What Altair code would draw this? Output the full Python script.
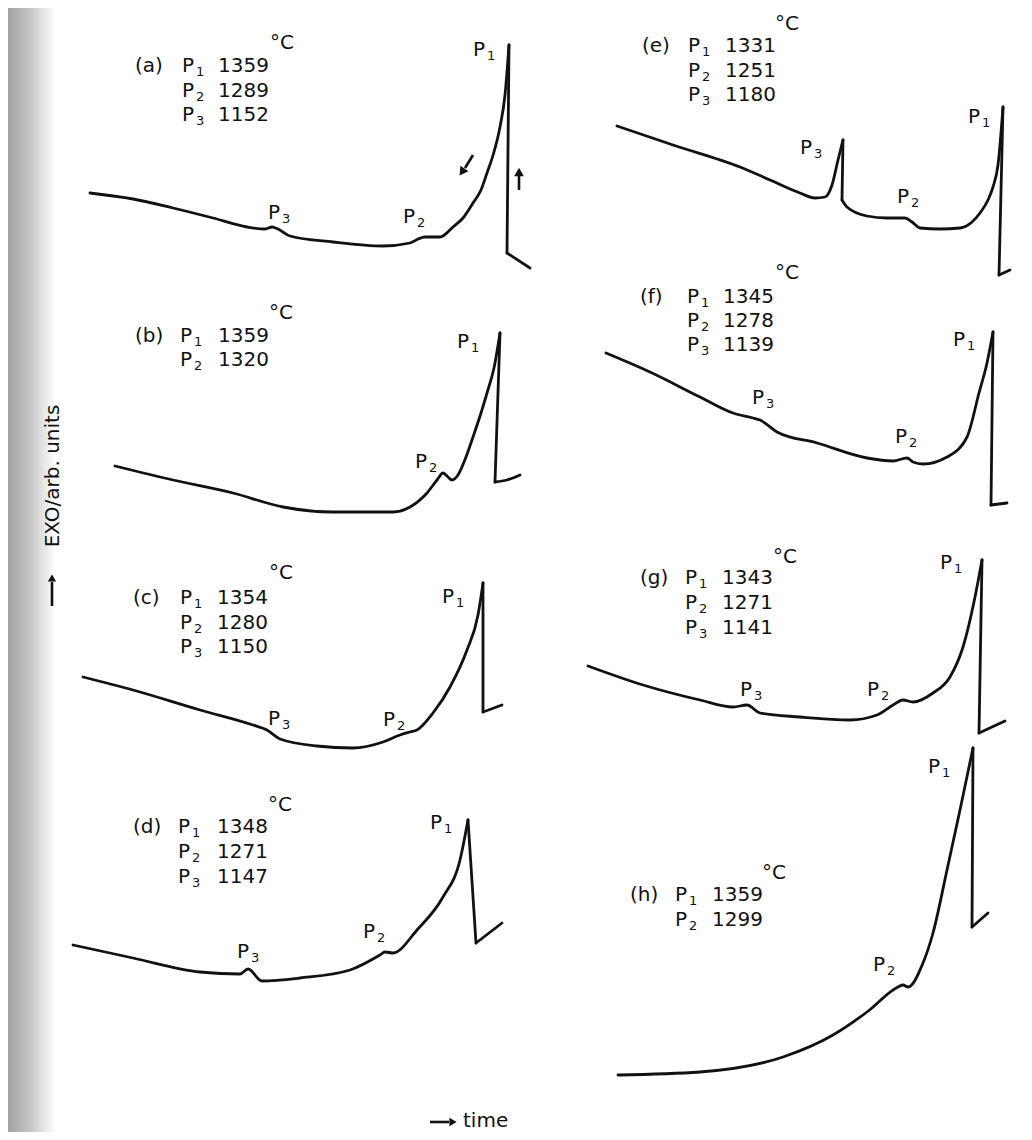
import altair as alt
import pandas as pd

# ---------------- data (time, EXO signal; arb. units) -------------
A_TIME = [90,133,173,213,247,265,272,278,290,333,383,410,418,425,440,453,463,473,481,487,494,500,505,509,507,530]
A_EXO  = [193,199,208,218,227,229,227,229,236,242,246,243,239,237,237,227,218,203,190,173,152,127,95,45,253,268]
B_TIME = [115,173,233,283,333,393,410,427,437,443,448,452,458,466,473,481,487,494,500,495,507,520]
B_EXO  = [466,480,493,507,512,512,507,493,480,473,477,480,475,457,437,413,393,368,333,482,480,475]
C_TIME = [83,133,200,253,267,280,317,353,383,400,410,417,433,450,467,478,483,483,502]
C_EXO  = [677,690,710,725,730,739,746,748,742,735,732,730,713,687,650,615,583,712,705]
D_TIME = [73,133,200,240,248,262,300,350,380,385,393,417,443,460,468,476,502]
D_EXO  = [945,958,972,974,969,981,978,970,955,952,953,930,897,860,820,943,923]
E_TIME = [617,673,740,770,800,815,825,832,838,843,842,847,867,887,905,912,920,940,960,972,980,988,993,998,1003,999,1010]
E_EXO  = [126,145,167,180,193,198,197,185,160,140,200,207,216,218,218,222,228,229,228,222,213,200,187,165,107,275,270]
F_TIME = [606,650,700,733,753,760,777,817,867,893,907,913,923,947,967,979,987,993,991,1007]
F_EXO  = [353,372,397,413,418,420,432,443,458,461,458,462,464,457,437,393,363,332,505,503]
G_TIME = [588,643,700,733,747,760,800,850,877,893,903,913,933,950,963,975,982,979,1005]
G_EXO  = [666,685,700,707,705,713,717,720,715,705,700,702,693,677,647,597,560,733,721]
H_TIME = [618,700,783,833,867,898,903,908,923,933,947,960,973,972,988]
H_EXO  = [1075,1072,1057,1035,1012,987,985,987,963,933,870,810,748,927,913]

# peak temperatures (°C) per curve
PEAKS = {
    "a": [1359, 1289, 1152],
    "b": [1359, 1320],
    "c": [1354, 1280, 1150],
    "d": [1348, 1271, 1147],
    "e": [1331, 1251, 1180],
    "f": [1345, 1278, 1139],
    "g": [1343, 1271, 1141],
    "h": [1359, 1299],
}

CURVES = {
    "a": (A_TIME, A_EXO), "b": (B_TIME, B_EXO), "c": (C_TIME, C_EXO), "d": (D_TIME, D_EXO),
    "e": (E_TIME, E_EXO), "f": (F_TIME, F_EXO), "g": (G_TIME, G_EXO), "h": (H_TIME, H_EXO),
}
# indices of sharp vertices (spike tops and bottoms of the quench drops)
CORNERS = {
    "a": [23, 24], "b": [18, 19], "c": [16, 17], "d": [14, 15],
    "e": [9, 10, 24, 25], "f": [17, 18], "g": [16, 17], "h": [12, 13],
}

# ---------------- layout of the annotation blocks ----------------
# letter_x, P_x, value_x, first_row, row_step, degC_x, degC_y
HEADER_POS = {
    "a": (135, 182, 218, 66, 24.5, 270, 43),
    "b": (135, 180, 218, 336, 24, 269, 313),
    "c": (133, 180, 217, 598, 24.5, 269, 573),
    "d": (133, 178, 217, 827, 25, 268, 805),
    "e": (642, 688, 725, 46, 24.5, 775, 24),
    "f": (640, 687, 723, 297, 24, 775, 273),
    "g": (640, 685, 722, 578, 25, 773, 557),
    "h": (630, 675, 712, 895, 25, 762, 873),
}
# peak label (index, x, y) near the curves
PEAK_LABEL_POS = {
    "a": [(3, 268, 213), (2, 403, 217), (1, 473, 50)],
    "b": [(2, 415, 462), (1, 457, 342)],
    "c": [(3, 268, 719), (2, 383, 720), (1, 442, 597)],
    "d": [(3, 237, 952), (2, 363, 932), (1, 430, 823)],
    "e": [(3, 800, 148), (2, 897, 197), (1, 968, 117)],
    "f": [(3, 752, 398), (2, 895, 437), (1, 953, 340)],
    "g": [(3, 740, 690), (2, 867, 690), (1, 940, 563)],
    "h": [(2, 873, 965), (1, 928, 767)],
}

FONT = "DejaVu Sans"
INK = "#111111"
BIG = 20
SUB = 13

# ---------------- build tables ----------------
rows = []
for p, (ts, ys) in CURVES.items():
    cuts = [0] + CORNERS[p] + [len(ts) - 1]
    for s in range(len(cuts) - 1):
        for i in range(cuts[s], cuts[s + 1] + 1):
            rows.append({"seg": f"{p}{s}", "order": i, "time": ts[i], "exo": ys[i]})
lines_df = pd.DataFrame(rows)

txt = []
def add_p(label_idx, x, y):
    txt.append({"x": x, "y": y, "text": "P", "size": BIG})
    txt.append({"x": x + 14, "y": y + 6, "text": str(label_idx), "size": SUB})

for p, temps in PEAKS.items():
    lx, px, vx, r0, step, cx, cy = HEADER_POS[p]
    txt.append({"x": lx, "y": r0, "text": f"({p})", "size": BIG})
    for i, temp in enumerate(temps):
        ry = r0 + i * step
        add_p(i + 1, px, ry)
        txt.append({"x": vx, "y": ry, "text": str(temp), "size": BIG})
    txt.append({"x": cx, "y": cy, "text": "°C", "size": BIG})
    for idx, x, y in PEAK_LABEL_POS[p]:
        add_p(idx, x, y)
txt.append({"x": 463, "y": 1121, "text": "time", "size": BIG})
text_df = pd.DataFrame(txt)

arrows_df = pd.DataFrame([
    {"x": 52, "y": 606, "x2": 52, "y2": 582},     # y-axis arrow
    {"x": 430, "y": 1122, "x2": 449, "y2": 1122}, # time arrow
    {"x": 473, "y": 155, "x2": 465, "y2": 168},   # (a) cooling arrow
    {"x": 519, "y": 190, "x2": 519, "y2": 176},   # (a) heating arrow
])
heads_df = pd.DataFrame([
    {"x": 52, "y": 578, "shape": "triangle-up", "angle": 0, "sz": 70},
    {"x": 453, "y": 1122, "shape": "triangle-right", "angle": 0, "sz": 70},
    {"x": 462, "y": 172, "shape": "triangle-down", "angle": 35, "sz": 95},
    {"x": 519, "y": 172, "shape": "triangle-up", "angle": 0, "sz": 95},
])

W, H = 1016, 1124
xs = alt.Scale(domain=[8, 8 + W], nice=False, zero=False)
ys = alt.Scale(domain=[8, 8 + H], nice=False, zero=False, reverse=True)
X = lambda f: alt.X(f, type="quantitative", scale=xs, axis=None)
Y = lambda f: alt.Y(f, type="quantitative", scale=ys, axis=None)

texture = alt.Chart(pd.DataFrame({"k": [0]})).mark_rect(
    color=alt.Gradient(
        gradient="linear", x1=0, x2=1, y1=0, y2=0,
        stops=[alt.GradientStop(offset=0, color="#a2a2a2"),
               alt.GradientStop(offset=0.45, color="#c4c4c4"),
               alt.GradientStop(offset=0.8, color="#ebebeb"),
               alt.GradientStop(offset=1, color="#ffffff")],
    )
).encode(x=alt.value(0), x2=alt.value(48), y=alt.value(0), y2=alt.value(H))

curves = alt.Chart(lines_df).mark_line(
    color=INK, strokeWidth=2.8, strokeJoin="round", strokeCap="round",
    interpolate="monotone", clip=False
).encode(x=X("time"), y=Y("exo"), detail="seg:N", order="order:Q")

labels = alt.Chart(text_df).mark_text(
    font=FONT, color=INK, align="left", baseline="middle"
).encode(x=X("x"), y=Y("y"), text="text:N", size=alt.Size("size:Q", scale=None))

ylab = alt.Chart(pd.DataFrame({"x": [53], "y": [476], "t": ["EXO/arb. units"]})).mark_text(
    font=FONT, fontSize=BIG, color=INK, angle=270, align="center", baseline="middle"
).encode(x=X("x"), y=Y("y"), text="t:N")

arrow_rules = alt.Chart(arrows_df).mark_rule(color=INK, strokeWidth=2.6).encode(
    x=X("x"), y=Y("y"), x2="x2:Q", y2="y2:Q"
)
arrow_heads = alt.Chart(heads_df).mark_point(
    filled=True, color=INK, opacity=1
).encode(x=X("x"), y=Y("y"), shape=alt.Shape("shape:N", scale=None),
         angle=alt.Angle("angle:Q", scale=None), size=alt.Size("sz:Q", scale=None))

chart = alt.layer(texture, curves, labels, ylab, arrow_rules, arrow_heads).properties(
    width=W, height=H, padding=0, autosize="none", background="white"
).configure_view(stroke=None)

chart.save("out.html", embed_options={"renderer": "svg", "actions": False})
